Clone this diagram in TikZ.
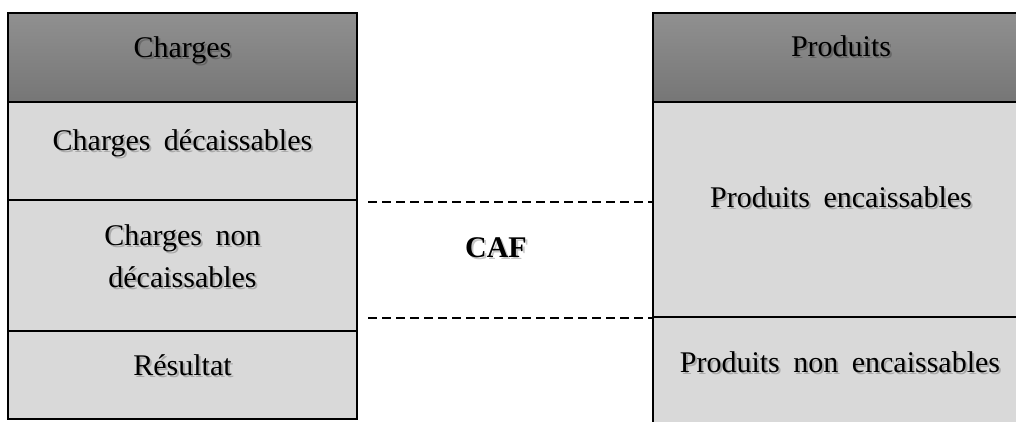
\documentclass[tikz,border=0pt]{standalone}
\usepackage{fontspec}
\setmainfont{Liberation Serif}
\definecolor{cellgray}{HTML}{D9D9D9}
\definecolor{headtop}{HTML}{909090}
\definecolor{headbot}{HTML}{767676}
% 30pt serif with slightly wider word spaces
\newcommand\lblfont{\fontsize{30}{36}\selectfont\spaceskip=0.45em plus 0.1em\relax}
\tikzset{
  cell/.style={draw=black, line width=2pt, fill=cellgray, inner sep=0pt},
  head/.style={draw=black, line width=2pt, top color=headtop, bottom color=headbot, inner sep=0pt},
  lbl/.style={anchor=base, inner sep=0pt, font=\lblfont, text=black},
  lblsh/.style={lbl, text=black, text opacity=0.22},
  cafline/.style={draw=black, line width=2pt, dash pattern=on 9pt off 5pt},
}
% label with a soft drop shadow
\newcommand\cellabel[4]{%
  \node[lblsh, xshift=2pt, yshift=-2pt] (#1-s) at (#2,#3) {#4};
  \node[lbl] (#1) at (#2,#3) {#4};}
\begin{document}
\begin{tikzpicture}[x=1pt,y=-1pt]
\fill[white] (0,0) rectangle (1016,421);
\clip (0,0) rectangle (1016,421);
% left column: charges
\node[head, minimum width=349pt, minimum height=89pt] (ch) at (182.5,57.5) {};
\node[cell, minimum width=349pt, minimum height=98pt] (cd) at (182.5,151) {};
\node[cell, minimum width=349pt, minimum height=131pt] (cn) at (182.5,265.5) {};
\node[cell, minimum width=349pt, minimum height=88pt] (cr) at (182.5,375) {};
% right column: produits
\node[head, minimum width=377pt, minimum height=89pt] (ph) at (841.5,57.5) {};
\node[cell, minimum width=377pt, minimum height=215pt] (pe) at (841.5,209.5) {};
\node[cell, minimum width=377pt, minimum height=120pt] (pn) at (841.5,377) {};
% labels
\cellabel{tch}{182.5}{57}{Charges}
\cellabel{tcd}{182.5}{150}{Charges décaissables}
\cellabel{tcn1}{182.5}{245}{Charges non}
\cellabel{tcn2}{182.5}{287}{décaissables}
\cellabel{tcr}{182.5}{375}{Résultat}
\cellabel{tph}{841}{56}{Produits}
\cellabel{tpe}{841}{207}{Produits encaissables}
\cellabel{tpn}{840}{372}{Produits non encaissables}
\cellabel{tcaf}{496}{257}{\bfseries CAF}
% CAF bounds
\draw[cafline] ([xshift=10pt,yshift=-1pt]cd.south east) -- ([yshift=-1pt]cd.south east -| pe.west);
\draw[cafline] ([xshift=10pt]cn.east |- pe.south) -- (pe.south west);
\end{tikzpicture}
\end{document}
